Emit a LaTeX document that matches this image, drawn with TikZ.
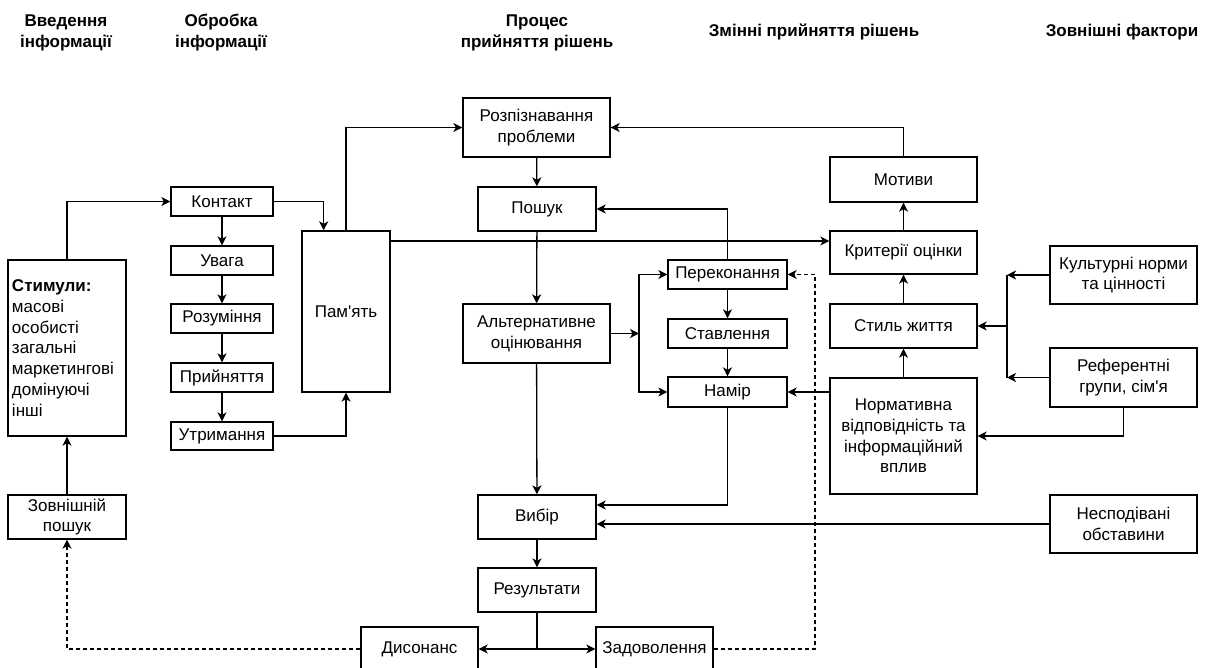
\documentclass[tikz,border=0pt]{standalone}
\usepackage{fontspec}
\setmainfont{Liberation Sans}[Ligatures=TeXOff]
\usetikzlibrary{arrows.meta,calc}

\begin{document}
\begin{tikzpicture}[x=1pt,y=-1pt,
  every node/.style={font=\fontsize{17}{20.7}\selectfont, text=black},
  box/.style={draw, line width=1.3pt, inner sep=0pt, align=center, fill=white},
  hdr/.style={font=\fontsize{17}{21}\selectfont\bfseries, align=center},
  link/.style={line width=1.3pt, line join=miter},
  arr/.style={link, -{Stealth[length=9pt,width=9pt,inset=2.5pt]}},
  darr/.style={arr, dash pattern=on 4pt off 3pt}]

\useasboundingbox (0,0) rectangle (1209,668);

% column headings
\node[hdr] (h1) at (66,32.5) {Введення\\інформації};
\node[hdr] (h2) at (221,32.5) {Обробка\\інформації};
\node[hdr] (h3) at (537,32.5) {Процес\\прийняття рішень};
\node[hdr] (h4) at (814,32) {Змінні прийняття рішень};
\node[hdr] (h5) at (1122,32) {Зовнішні фактори};

% information input
\node[box, minimum width=118pt, minimum height=176pt, align=left,
      text width=110pt, inner xsep=4pt] (stym) at (67,348)
  {\textbf{Стимули:}\\масові\\особисті\\загальні\\маркетингові\\домінуючі\\інші};
\node[box, minimum width=118pt, minimum height=44pt] (zovn) at (67,517) {Зовнішній\\пошук};

% information processing
\node[box, minimum width=102pt, minimum height=29pt] (kontakt) at (222,201.5) {Контакт};
\node[box, minimum width=102pt, minimum height=29pt] (uvaga) at (222,260.5) {Увага};
\node[box, minimum width=102pt, minimum height=29pt] (rozum) at (222,318.5) {Розуміння};
\node[box, minimum width=102pt, minimum height=29pt] (pryin) at (222,377.5) {Прийняття};
\node[box, minimum width=102pt, minimum height=28pt] (utrym) at (222,436) {Утримання};
\node[box, minimum width=88pt, minimum height=161pt] (pamyat) at (346,311.5) {Пам'ять};

% decision process
\node[box, minimum width=147pt, minimum height=59pt] (rozp) at (536.5,127.5) {Розпізнавання\\проблеми};
\node[box, minimum width=118pt, minimum height=44pt] (poshuk) at (537,209) {Пошук};
\node[box, minimum width=147pt, minimum height=59pt] (alt) at (536.5,333.5) {Альтернативне\\оцінювання};
\node[box, minimum width=118pt, minimum height=44pt] (vybir) at (537,517) {Вибір};
\node[box, minimum width=118pt, minimum height=44pt] (rez) at (537,590) {Результати};
\node[box, minimum width=117pt, minimum height=44pt] (dys) at (419.5,649) {Дисонанс};
\node[box, minimum width=117pt, minimum height=44pt] (zad) at (654.5,649) {Задоволення};

% decision variables
\node[box, minimum width=119pt, minimum height=29pt] (perek) at (727.5,274.5) {Переконання};
\node[box, minimum width=119pt, minimum height=29pt] (stav) at (727.5,333.5) {Ставлення};
\node[box, minimum width=119pt, minimum height=30pt] (namir) at (727.5,392) {Намір};
\node[box, minimum width=147pt, minimum height=45pt] (motyvy) at (903.5,179.5) {Мотиви};
\node[box, minimum width=147pt, minimum height=43pt] (kryt) at (903.5,252.5) {Критерії оцінки};
\node[box, minimum width=147pt, minimum height=44pt] (styl) at (903.5,326) {Стиль життя};
\node[box, minimum width=147pt, minimum height=116pt] (norm) at (903.5,436)
  {Нормативна\\відповідність та\\інформаційний\\вплив};

% external factors
\node[box, minimum width=147pt, minimum height=58pt] (kult) at (1123.5,275) {Культурні норми\\та цінності};
\node[box, minimum width=147pt, minimum height=59pt] (ref) at (1123.5,377.5) {Референтні\\групи, сім'я};
\node[box, minimum width=147pt, minimum height=58pt] (nesp) at (1123.5,524) {Несподівані\\обставини};

% routing helpers
\coordinate (kx) at ($(pamyat.north west)!0.25!(pamyat.north east)$);
\coordinate (ky) at (0,241);
\coordinate (jx) at (639,0);
\coordinate (bx) at (1007,0);
\coordinate (dx) at (815,0);
\coordinate (vy) at (0,505);

% input and processing
\draw[arr] (stym.north) |- (kontakt.west);
\draw[arr] (zovn.north) -- (stym.south);
\draw[arr] (kontakt.east) -| (kx);
\draw[arr] (kontakt) -- (uvaga);
\draw[arr] (uvaga) -- (rozum);
\draw[arr] (rozum) -- (pryin);
\draw[arr] (pryin) -- (utrym);
\draw[arr] (utrym.east) -| (pamyat.south);
\draw[arr] (pamyat.north) |- (rozp.west);
\draw[arr] (pamyat.east |- ky) -- (kryt.west |- ky);

% decision process
\draw[arr] (rozp) -- (poshuk);
\draw[arr] (poshuk) -- (alt);
\draw[arr] (alt) -- (vybir);
\draw[arr] (vybir) -- (rez);
\draw[arr] (rez.south) |- (dys.east);
\draw[arr] (rez.south) |- (zad.west);
\draw[darr] (dys.west) -| (zovn.south);
\draw[darr] (zad.east) -| (dx |- perek.east) -- (perek.east);

% alternatives and beliefs
\draw[arr] (alt.east) -- (alt.east -| jx);
\draw[arr] (jx |- alt.east) |- (perek.west);
\draw[arr] (jx |- alt.east) |- (namir.west);
\draw[arr] (perek) -- (stav);
\draw[arr] (stav) -- (namir);
\draw[arr] (perek.north) |- (poshuk.east);
\draw[arr] (namir.south) |- (vybir.east |- vy);
\draw[arr] (nesp.west) -- (nesp.west -| vybir.east);

% variables column
\draw[arr] (motyvy.north) |- (rozp.east);
\draw[arr] (kryt) -- (motyvy);
\draw[arr] (styl) -- (kryt);
\draw[arr] (norm) -- (styl);
\draw[arr] (namir.east -| norm.west) -- (namir.east);

% external factors
\draw[arr] (kult.west) -- (kult.west -| bx);
\draw[arr] (ref.west) -- (ref.west -| bx);
\draw[link] (kult.west -| bx) -- (ref.west -| bx);
\draw[arr] (styl.east -| bx) -- (styl.east);
\draw[arr] (ref.south) |- (norm.east);
\end{tikzpicture}
\end{document}
